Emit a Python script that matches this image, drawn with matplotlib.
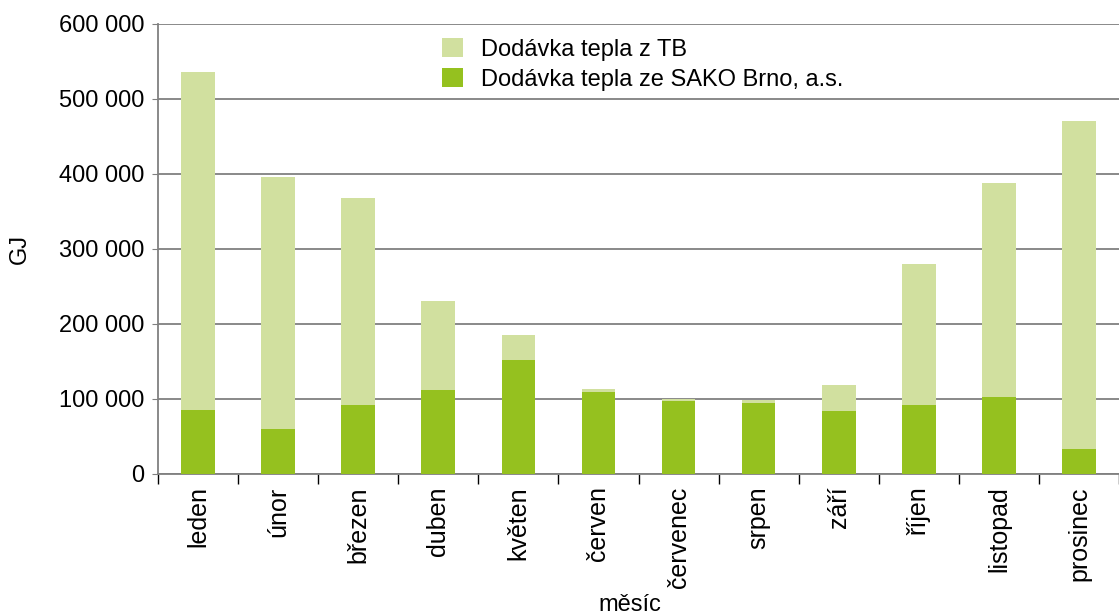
import matplotlib.pyplot as plt
import numpy as np

plt.rcParams['font.family'] = ['Liberation Sans', 'DejaVu Sans']

mesice = ['leden', 'únor', 'březen', 'duben', 'květen', 'červen',
          'červenec', 'srpen', 'září', 'říjen', 'listopad', 'prosinec']
celkem = [536000, 396000, 368000, 230700, 185300, 113300,
          100000, 98700, 118700, 280000, 388000, 470700]
sako = [85300, 60000, 92000, 112000, 152000, 109300,
        97300, 94700, 84000, 92000, 102700, 33300]
tb = [c - s for c, s in zip(celkem, sako)]

fig = plt.figure(figsize=(11.19, 6.15), dpi=100)
ax = fig.add_axes([0.1412, 0.2293, 0.8588, 0.7317])

x = np.arange(len(mesice))
ax.bar(x, sako, width=0.42, color='#95c11f', label='Dodávka tepla ze SAKO Brno, a.s.', zorder=3)
ax.bar(x, tb, width=0.42, bottom=sako, color='#d1e09f', label='Dodávka tepla z TB', zorder=3)

ax.set_xlim(-0.5, len(mesice) - 0.5)
ax.set_ylim(0, 600000)
ax.set_yticks(range(0, 600001, 100000))
ax.set_yticklabels(['0' if v == 0 else f'{v // 1000} 000' for v in range(0, 600001, 100000)])
ax.yaxis.grid(True, color='#808080', linewidth=1.3, zorder=0)
ax.set_axisbelow(True)

ax.set_xticks(x)
ax.set_xticklabels(mesice, rotation=90)
ax.set_xticks(np.arange(-0.5, len(mesice), 1), minor=True)
ax.tick_params(axis='x', which='major', length=0, labelsize=18, pad=9)
ax.tick_params(axis='x', which='minor', length=7, width=1, color='black', direction='out')
ax.tick_params(axis='y', length=4, color='#808080', labelsize=17, pad=6)

for s in ['top', 'right']:
    ax.spines[s].set_visible(False)
ax.spines['left'].set_color('#808080')
ax.spines['bottom'].set_color('#808080')
ax.spines['left'].set_linewidth(1.3)
ax.spines['bottom'].set_linewidth(1.3)

ax.set_ylabel('GJ', fontsize=17, labelpad=20)
ax.set_xlabel('měsíc', fontsize=17, va='center')
ax.xaxis.set_label_coords(0.491, -0.292)

handles, labels = ax.get_legend_handles_labels()
ax.legend(handles[::-1], labels[::-1], loc='upper left', bbox_to_anchor=(0.278, 1.005),
          frameon=False, fontsize=17, handlelength=0.9, handleheight=0.85,
          handletextpad=0.75, labelspacing=0.3, borderaxespad=0.3)

fig.savefig('out.png', dpi=100)
